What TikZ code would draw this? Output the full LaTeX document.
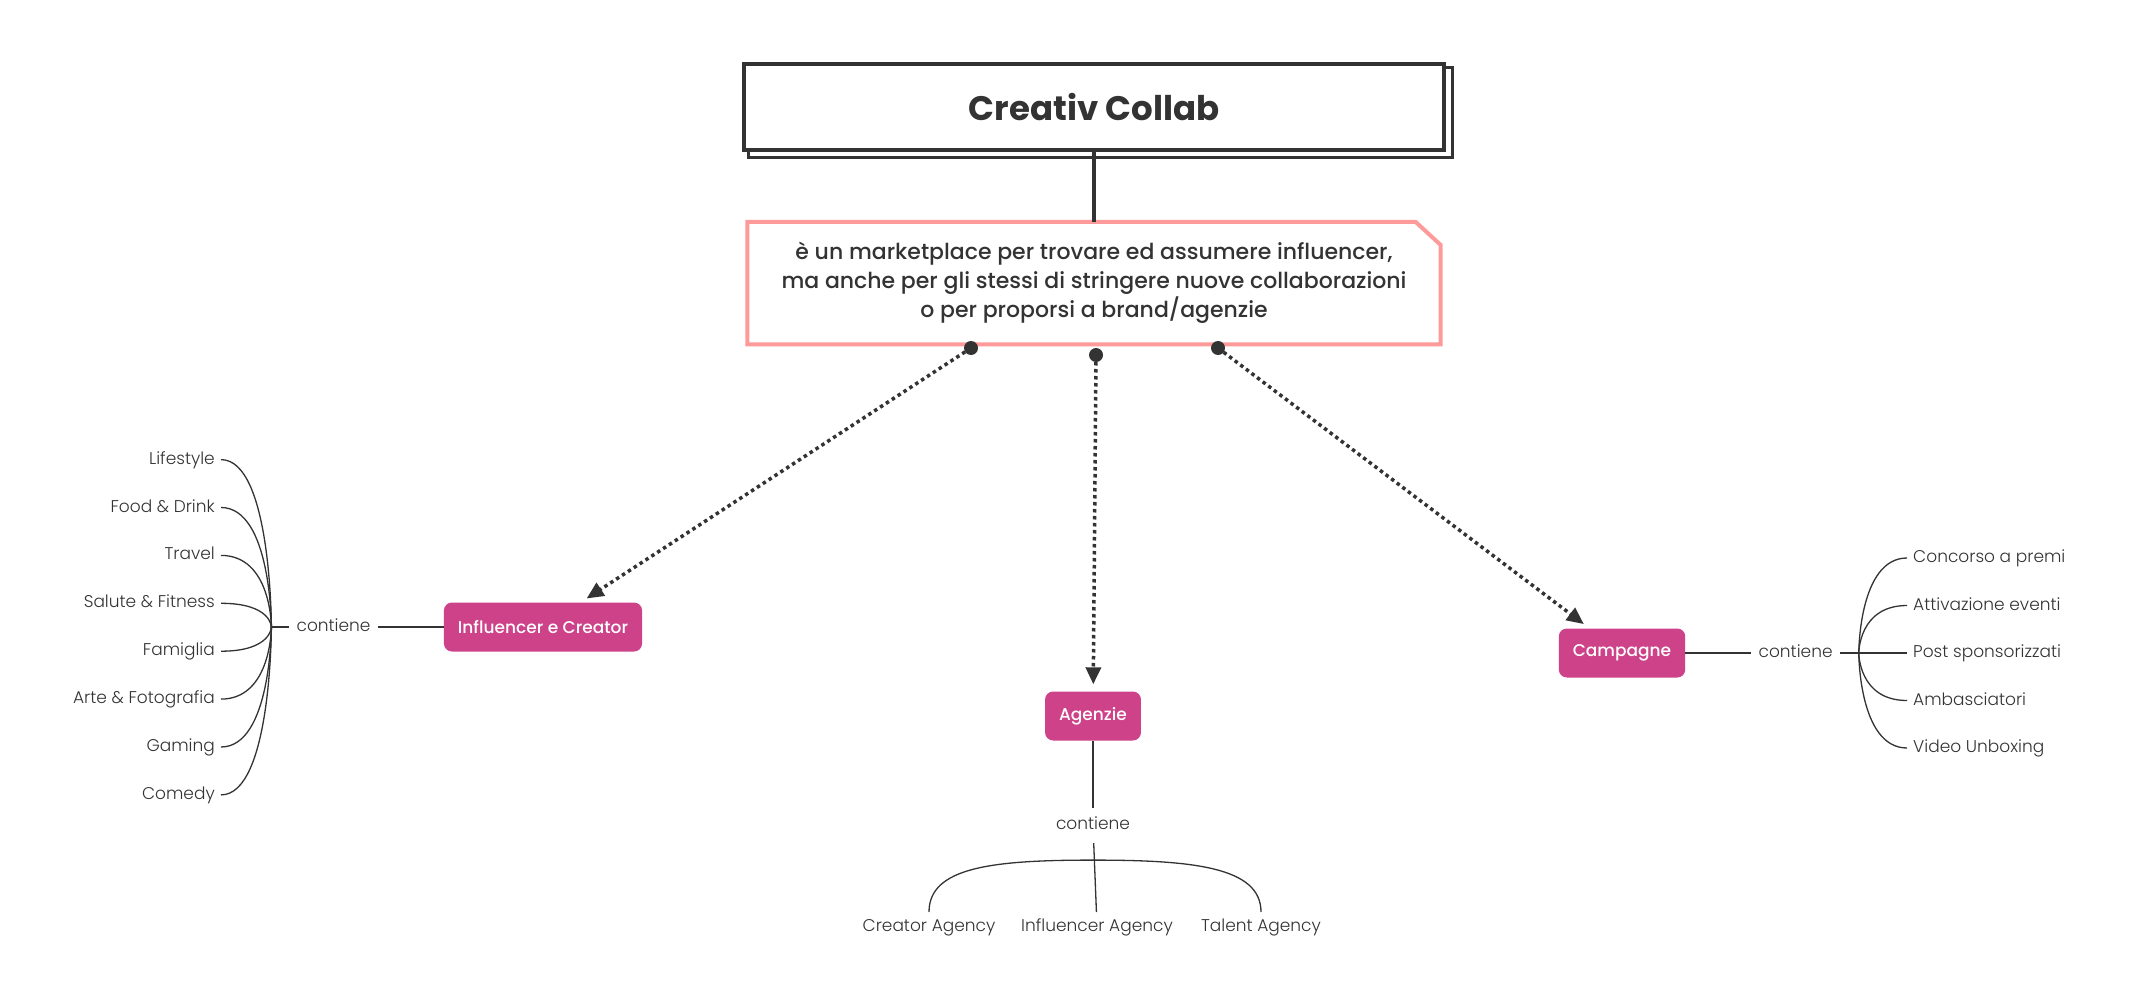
\documentclass[tikz,border=0pt]{standalone}
\usepackage{fontspec}
\setmainfont{Poppins}
\newfontfamily\mediumfont{Poppins Medium}
\newfontfamily\lightfont{Poppins Light}
\usetikzlibrary{positioning, arrows.meta}
\definecolor{ink}{HTML}{333333}
\definecolor{topicfill}{HTML}{CD4289}
\definecolor{notepink}{HTML}{FF9A9A}
\tikzset{
x=1pt, y=-1pt, % one unit is one pixel of the layout, y grows downwards
titlebox/.style={draw=ink, line width=4pt, fill=white, text=ink, minimum width=700pt, minimum height=86pt, font=\bfseries\fontsize{34}{40}\selectfont}, % the central topic
notebox/.style={text=ink, align=center, minimum width=693pt, minimum height=122pt, font=\mediumfont\fontsize{22}{29}\selectfont}, % outline is drawn by hand
topic/.style={fill=topicfill, rounded corners=8pt, text=white, inner xsep=14pt, minimum height=49pt, font=\mediumfont\fontsize{17}{20}\selectfont}, % main branches
leaf/.style={text=ink, inner sep=6pt, text height=13pt, text depth=4pt, font=\lightfont\fontsize{17}{20}\selectfont}, % sub topics
verb/.style={leaf, inner xsep=7pt, minimum height=35pt}, % the 'contiene' labels
branch/.style={draw=ink, line width=1.3pt}, % thin connectors
link/.style={draw=ink, line width=3.5pt, dash pattern=on 3.5pt off 3.5pt, -{Triangle[length=17pt,width=15pt]}, shorten >=7pt}, % dotted relations
}
\begin{document}
\begin{tikzpicture}
\useasboundingbox (0,0) rectangle (2140,1008);
% central topic and its note
\node[titlebox] (title) at (1094,107) {Creativ Collab};
\draw[ink, line width=3pt] ([shift={(0,6)}]title.north east) -| ([shift={(6,6)}]title.south east) -| ([shift={(6,0)}]title.south west);
\node[notebox, below=70pt of title] (desc) {è un marketplace per trovare ed assumere influencer,\\ma anche per gli stessi di stringere nuove collaborazioni\\o per proporsi a brand/agenzie};
\draw[notepink, line width=4pt] (desc.south west) -- (desc.north west) -- ([shift={(-25,0)}]desc.north east) -- ([shift={(0,23)}]desc.north east) -- (desc.south east) -- cycle;
\draw[ink, line width=4pt] (title.south) -- (desc.north);

% main branches
\node[topic] (infl) at (543,627) {Influencer e Creator};
\node[topic] (agen) at (1093,716) {Agenzie};
\node[topic] (camp) at (1622,653) {Campagne};

\coordinate (d1) at (971,348);
\coordinate (d2) at (1096,355);
\coordinate (d3) at (1218,348);
\foreach \d in {d1,d2,d3}
  \fill[ink] (\d) circle (7);
\draw[link] (d1) -- (infl);
\draw[link] (d2) -- (agen);
\draw[link] (d3) -- (camp);

% Influencer e Creator
\node[verb, left=66pt of infl] (icont) {contiene};
\coordinate[left=18pt of icont] (ifork);
\draw[branch] (infl) -- (icont);
\draw[branch] (icont) -- (ifork);
\foreach \name [count=\i] in {Lifestyle, Food \& Drink, Travel, Salute \& Fitness, Famiglia, Arte \& Fotografia, Gaming, Comedy}
  \node[leaf, anchor=east] (l\i) at (221,{411.7+47.9*\i}) {\name};
\foreach \i in {1,...,8}
  \draw[branch] (l\i.east) .. controls (l\i.east -| ifork) and (ifork) .. (ifork);

% Agenzie
\node[verb, below=67pt of agen] (acont) {contiene};
\coordinate[below=17pt of acont] (afork);
\draw[branch] (agen) -- (acont);
\node[leaf, anchor=north] (a1) at (929,912) {Creator Agency};
\node[leaf, anchor=north] (a2) at (1097,912) {Influencer Agency};
\node[leaf, anchor=north] (a3) at (1261,912) {Talent Agency};
\draw[branch] (acont) -- (a2);
\draw[branch] (afork) .. controls +(-100,0) and +(0,-45) .. (a1.north);
\draw[branch] (afork) .. controls +(100,0) and +(0,-45) .. (a3.north);

% Campagne
\node[verb, right=66pt of camp] (ccont) {contiene};
\coordinate[right=19pt of ccont] (cfork);
\draw[branch] (camp) -- (ccont);
\draw[branch] (ccont) -- (cfork);
\foreach \name [count=\i] in {Concorso a premi, Attivazione eventi, Post sponsorizzati, Ambasciatori, Video Unboxing}
  \node[leaf, anchor=west] (r\i) at (1907,{510.5+47.5*\i}) {\name};
\foreach \i in {1,...,5}
  \draw[branch] (cfork) .. controls (cfork) and (cfork |- r\i.west) .. (r\i.west);
\end{tikzpicture}
\end{document}
